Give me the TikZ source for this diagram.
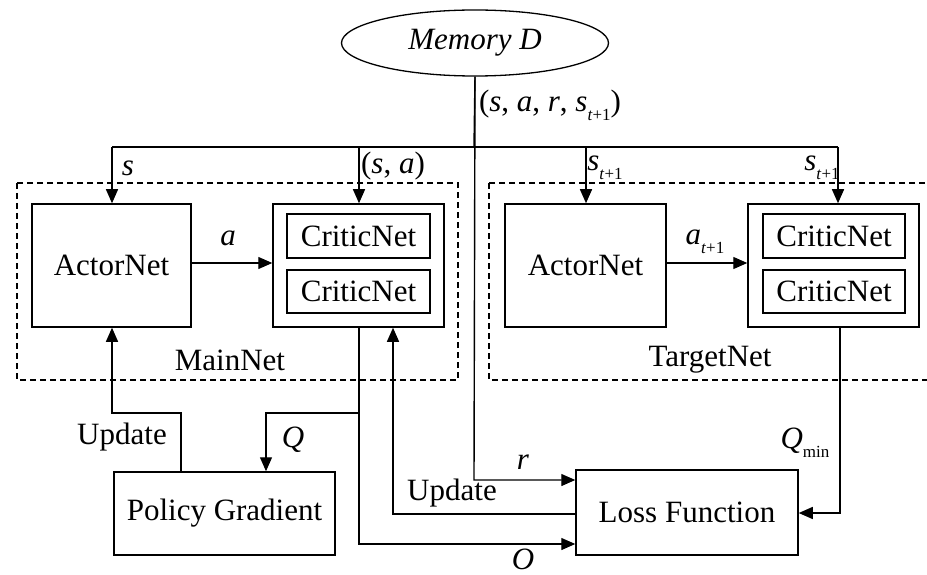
\documentclass[tikz,border=0pt]{standalone}
\usepackage{fontspec}
\setmainfont{Liberation Serif}
\usetikzlibrary{arrows.meta,shapes.geometric}

% small lowered index for variable names
\newcommand\lowsub[1]{\raisebox{-0.3em}{\fontsize{17}{17}\selectfont #1}}
\newcommand\vr[1]{\textit{#1}}

\tikzset{
  box/.style={draw, line width=1.5pt, inner sep=0pt, rectangle},
  group/.style={draw, line width=1.3pt, dash pattern=on 6pt off 4pt},
  wire/.style={line width=1.4pt},
  arr/.style={wire, -{Triangle[length=14pt,width=12pt]}},
  lbl/.style={inner sep=0pt}
}

\begin{document}
\begin{tikzpicture}[x=1pt, y=-1pt, font=\fontsize{31}{36}\selectfont]
\useasboundingbox (0,0) rectangle (927,575);

% network groups
\draw[group] (17,183) rectangle (458,380);
\draw[group] (489,183) rectangle (945,380);
\node[lbl] (mainlbl) at (230,360) {MainNet};
\node[lbl] (targetlbl) at (710,360) {TargetNet};

% replay memory
\node[draw, ellipse, line width=1.3pt, minimum width=267pt, minimum height=66pt, inner sep=0pt]
  (mem) at (475,43) {\vr{Memory D}};

% main network
\node[box, minimum width=159pt, minimum height=123pt] (actorM) at (111.5,265.5) {ActorNet};
\node[box, minimum width=171pt, minimum height=123pt] (criticM) at (358.5,265.5) {};
\node[box, minimum width=143pt, minimum height=44pt] (cM1) at (358.5,236) {CriticNet};
\node[box, minimum width=143pt, minimum height=43pt] (cM2) at (358.5,291.5) {CriticNet};

% target network
\node[box, minimum width=161pt, minimum height=123pt] (actorT) at (585.5,265.5) {ActorNet};
\node[box, minimum width=171pt, minimum height=123pt] (criticT) at (833.5,265.5) {};
\node[box, minimum width=142pt, minimum height=44pt] (cT1) at (834,236) {CriticNet};
\node[box, minimum width=142pt, minimum height=43pt] (cT2) at (834,291.5) {CriticNet};

% training blocks
\node[box, minimum width=221pt, minimum height=83pt] (pg) at (224.5,513.5) {Policy Gradient};
\node[box, minimum width=222pt, minimum height=85pt] (loss) at (687,512.5) {Loss Function};

% sample bus
\coordinate (busM) at (474,147);
\coordinate (b1) at (112,147);
\coordinate (b2) at (359,147);
\coordinate (b3) at (586,147);
\coordinate (b4) at (838,147);
\draw[wire] (b1) -- (b4);
\draw[wire] (mem.south) -- (busM);
\draw[arr] (b1) -- (b1 |- actorM.north);
\draw[arr] (b2) -- (b2 |- criticM.north);
\draw[arr] (b3) -- (b3 |- actorT.north);
\draw[arr] (b4) -- (b4 |- criticT.north);

% actions
\draw[arr] (actorM.east |- 0,263) -- (criticM.west |- 0,263);
\draw[arr] (actorT.east |- 0,263) -- (criticT.west |- 0,263);

% reward path
\coordinate (rc) at (474,480);
\draw[arr] (mem.south) -- (rc) -- (rc -| loss.west);

% critic outputs
\coordinate (qs) at (359,327);
\coordinate (qj) at (359,413);
\coordinate (qo) at (359,544);
\draw[arr] (qs) -- (qj) -- (266,413) -- (266,413 |- pg.north);
\draw[arr] (qj) -- (qo) -- (qo -| loss.west);

% critic update
\coordinate (cu) at (393,514);
\draw[arr] (cu -| loss.west) -- (cu) -- (cu |- criticM.south);

% actor update
\coordinate (au) at (181,413);
\draw[arr] (au |- pg.north) -- (au) -- (112,413) -- (112,413 |- actorM.south);

% target value
\coordinate (tq) at (840,513);
\draw[arr] (tq |- criticT.south) -- (tq) -- (tq -| loss.east);

% labels
\node[lbl] (l0) at (550,105) {(\vr{s}, \vr{a}, \vr{r}, \vr{s}\lowsub{\vr{t}+1})};
\node[lbl] (l1) at (128,168) {\vr{s}};
\node[lbl] (l2) at (393,166) {(\vr{s}, \vr{a})};
\node[lbl] (l3) at (605,168) {\vr{s}\lowsub{\vr{t}+1}};
\node[lbl] (l4) at (822,168) {\vr{s}\lowsub{\vr{t}+1}};
\node[lbl] (l5) at (228,238) {\vr{a}};
\node[lbl] (l6) at (705,242) {\vr{a}\lowsub{\vr{t}+1}};
\node[lbl] (l7) at (122,437) {Update};
\node[lbl] (l8) at (293,440) {\vr{Q}};
\node[lbl] (l9) at (523,462) {\vr{r}};
\node[lbl] (l10) at (452,493) {Update};
\node[lbl] (l11) at (523,559) {\vr{O}};
\node[lbl] (l12) at (805,443) {\vr{Q}\lowsub{min}};
\end{tikzpicture}
\end{document}
